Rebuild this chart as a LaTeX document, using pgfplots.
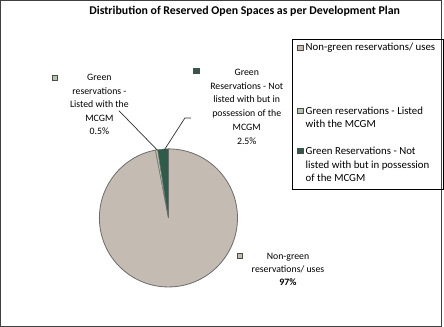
\documentclass[border=0pt]{standalone}
\usepackage{pgfplots}
\pgfplotsset{compat=1.18}
\usepackage{fontspec}
\setmainfont{Carlito}
\definecolor{nongreen}{HTML}{C4BBB3}
\definecolor{listed}{HTML}{B5C4AE}
\definecolor{notlisted}{HTML}{2F5B4B}
\definecolor{edgegray}{HTML}{6E6E6E}
% pie values (percent): Non-green, Listed, Not listed
\def\vA{97}
\def\vB{0.5}
\def\vC{2.5}
\pgfmathsetmacro{\aA}{90-3.6*\vA}
\pgfmathsetmacro{\aB}{\aA-3.6*\vB}
\pgfmathsetmacro{\aC}{\aB-3.6*\vC}
\begin{document}
\begin{tikzpicture}
\begin{axis}[
  width=444pt, height=331pt, scale only axis,
  xmin=0, xmax=444, ymin=0, ymax=331, y dir=reverse,
  hide axis, clip=false,
]
% frame
\draw[black!75, line width=0.9pt] (axis cs:13,10) rectangle (axis cs:441,326);
% title
\node[font=\fontsize{11.5}{13}\selectfont\bfseries] at (axis cs:250,20) {Distribution of Reserved Open Spaces as per Development Plan};
% pie slices
\fill[nongreen, draw=edgegray, line width=0.8pt] (axis cs:176,221) -- ++(90:67pt) arc[start angle=90, end angle=\aA, radius=67pt] -- cycle;
\fill[listed, draw=edgegray, line width=0.4pt] (axis cs:176,221) -- ++(\aA:67pt) arc[start angle=\aA, end angle=\aB, radius=67pt] -- cycle;
\fill[notlisted, draw=edgegray, line width=0.4pt] (axis cs:176,221) -- ++(\aB:67pt) arc[start angle=\aB, end angle=\aC, radius=67pt] -- cycle;
% leader lines
\draw[black!80, line width=0.7pt] (axis cs:128,117) -- (axis cs:165,155);
\draw[black!80, line width=0.7pt] (axis cs:198,124) -- (axis cs:192,124) -- (axis cs:172,155);
% data labels
\node[align=center, font=\fontsize{9.5}{13}\selectfont] at (axis cs:109,111) {Green\\reservations -\\Listed with the\\MCGM\\0.5\%};
\node[draw=black!70, fill=listed, minimum size=5pt, inner sep=0pt, line width=0.6pt] at (axis cs:66,85) {};
\node[align=center, font=\fontsize{9.5}{13.3}\selectfont] at (axis cs:252,113) {Green\\Reservations - Not\\listed with but in\\possession of the\\MCGM\\2.5\%};
\node[draw=black!70, fill=notlisted, minimum size=5pt, inner sep=0pt, line width=0.6pt] at (axis cs:203,78) {};
\node[align=center, font=\fontsize{9.5}{12.5}\selectfont] at (axis cs:292,271) {Non-green\\reservations/ uses\\\textbf{97\%}};
\node[draw=black!70, fill=nongreen, minimum size=5pt, inner sep=0pt, line width=0.6pt] at (axis cs:245,258) {};
% legend
\draw[black, line width=0.8pt] (axis cs:296,48) rectangle (axis cs:443,193);
\node[draw=black!70, fill=nongreen, minimum size=5pt, inner sep=0pt, line width=0.6pt] at (axis cs:304,56) {};
\node[anchor=west, font=\fontsize{10.5}{13}\selectfont, inner sep=1pt] at (axis cs:308,56) {Non-green reservations/ uses};
\node[draw=black!70, fill=listed, minimum size=5pt, inner sep=0pt, line width=0.6pt] at (axis cs:304,117) {};
\node[anchor=west, align=left, font=\fontsize{10.5}{13}\selectfont, inner sep=1pt] at (axis cs:308,123.5) {Green reservations - Listed\\with the MCGM};
\node[draw=black!70, fill=notlisted, minimum size=5pt, inner sep=0pt, line width=0.6pt] at (axis cs:304,156) {};
\node[anchor=west, align=left, font=\fontsize{10.5}{13}\selectfont, inner sep=1pt] at (axis cs:308,169) {Green Reservations - Not\\listed with but in possession\\of the MCGM};
\end{axis}
\end{tikzpicture}
\end{document}
